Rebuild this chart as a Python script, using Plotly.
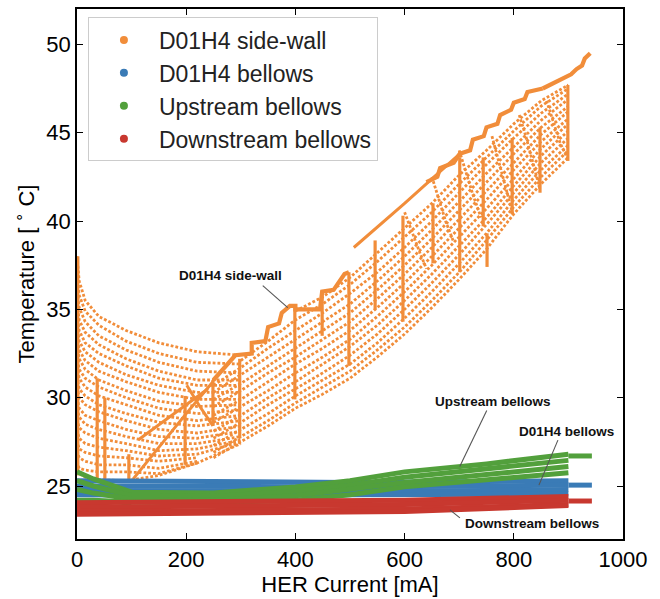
import plotly.graph_objects as go

ORANGE = "#F18D3A"
BLUE = "#3A7BB6"
GREEN = "#52A03C"
RED = "#C8382F"
FONT = "Liberation Sans, Arial, Helvetica, sans-serif"

# ---------------- D01H4 side-wall temperature [degC] vs HER current [mA] ----------------
# Cooling branches after re-injection: wall is warm at low current and cools while current builds up
COOL_X = [0, 4, 15, 40, 90, 150, 220, 300]
COOL_Y = [
    [38.0, 36.6, 35.5, 34.6, 33.8, 33.1, 32.6, 32.4],
    [36.9, 35.8, 34.9, 34.1, 33.2, 32.5, 32.0, 31.9],
    [36.0, 35.1, 34.3, 33.5, 32.7, 32.0, 31.5, 31.4],
    [35.3, 34.4, 33.7, 33.0, 32.2, 31.5, 31.0, 31.0],
    [34.7, 33.8, 33.1, 32.5, 31.8, 31.1, 30.7, 30.7],
    [34.1, 33.2, 32.6, 32.0, 31.3, 30.7, 30.3, 30.3],
    [33.5, 32.7, 32.1, 31.5, 30.9, 30.3, 29.9, 29.9],
    [33.0, 32.2, 31.6, 31.0, 30.4, 29.8, 29.5, 29.6],
    [32.4, 31.6, 31.1, 30.6, 30.0, 29.4, 29.1, 29.3],
    [31.8, 31.1, 30.6, 30.1, 29.6, 29.0, 28.7, 29.0],
    [31.2, 30.5, 30.1, 29.6, 29.1, 28.6, 28.4, 28.7],
    [30.6, 30.0, 29.6, 29.2, 28.7, 28.2, 28.0, 28.4],
    [30.0, 29.4, 29.0, 28.7, 28.2, 27.8, 27.7, 28.1],
    [29.4, 28.9, 28.5, 28.2, 27.8, 27.4, 27.4, 27.8],
    [28.8, 28.3, 28.0, 27.7, 27.4, 27.0, 27.1, 27.6],
    [28.2, 27.7, 27.4, 27.2, 27.0, 26.7, 26.8, 27.5],
    [27.6, 27.1, 26.9, 26.7, 26.6, 26.4, 26.6, None],
    [27.0, 26.6, 26.4, 26.2, 26.2, 26.0, 26.4, None],
    [26.4, 26.0, 25.9, 25.8, 25.8, 25.7, 26.3, None],
    [25.9, 25.7, 25.5, 25.35, 25.3, 25.6, 26.3, 27.4],
]

# Slow rise of the wall temperature with stored current
RISE_X = [250, 300, 350, 400, 450, 500, 550, 600, 650, 700, 750, 800, 850, 900]
RISE_Y = [
    [26.6, 27.5, 28.4, 29.4, 30.2, 31.1, 32.3, 33.6, 35.1, 36.7, 38.4, 40.4, 42.1, 43.6],
    [26.9, 27.8, 28.7, 29.7, 30.6, 31.5, 32.7, 34.0, 35.5, 37.1, 38.9, 40.8, 42.5, 44.0],
    [27.3, 28.2, 29.1, 30.1, 31.0, 31.9, 33.1, 34.5, 36.0, 37.6, 39.3, 41.2, 42.9, 44.3],
    [27.7, 28.6, 29.6, 30.5, 31.4, 32.4, 33.6, 35.0, 36.5, 38.1, 39.8, 41.6, 43.3, 44.7],
    [28.1, 29.0, 30.0, 30.9, 31.9, 32.9, 34.1, 35.5, 37.0, 38.6, 40.2, 42.0, 43.7, 45.1],
    [28.6, 29.5, 30.4, 31.4, 32.3, 33.3, 34.6, 36.0, 37.5, 39.1, 40.7, 42.4, 44.1, 45.5],
    [29.0, 29.9, 30.9, 31.9, 32.8, 33.8, 35.1, 36.5, 38.0, 39.6, 41.2, 42.9, 44.5, 45.8],
    [29.5, 30.4, 31.4, 32.3, 33.3, 34.3, 35.6, 37.0, 38.5, 40.1, 41.7, 43.3, 44.9, 46.2],
    [29.9, 30.8, 31.8, 32.8, 33.8, 34.8, 36.1, 37.5, 39.0, 40.6, 42.2, 43.8, 45.3, 46.5],
    [30.3, 31.3, 32.3, 33.3, 34.3, 35.3, 36.6, 38.0, 39.5, 41.1, 42.7, 44.2, 45.7, 46.9],
    [30.7, 31.7, 32.8, 33.8, 34.8, 35.9, 37.1, 38.5, 40.0, 41.6, 43.2, 44.7, 46.1, 47.2],
    [None, 32.1, 33.2, 34.4, 35.3, 36.4, 37.7, 39.1, 40.5, 42.1, 43.6, 45.1, 46.5, 47.5],
    [None, None, None, 34.9, 35.7, 36.8, 38.2, 39.6, 41.0, 42.6, 44.0, 45.5, 46.8, 47.7],
]

# Fast injection ramps (current rises, wall lags behind)
RAMPS = [
    ([103, 150, 200, 249], [25.4, 27.2, 29.1, 30.9]),
    ([112, 160, 200, 240], [27.6, 28.7, 29.6, 30.5]),
    ([201, 225, 249], [30.7, 29.5, 28.4]),
    ([507, 600, 701], [38.5, 41.0, 43.8]),
]

# Upper edge of the side-wall history: staircase near the maximum temperatures
EDGE = [
    ([250, 290, 320, 320, 345, 350, 370, 375, 390, 400, 400, 445, 449, 470, 490, 498],
     [31.0, 32.4, 32.5, 33.1, 33.2, 34.0, 34.2, 34.8, 35.2, 35.2, 35.0, 35.0, 36.0, 36.1, 37.0, 37.1]),
    ([640, 660, 665, 690, 701, 720, 725, 745, 750, 770, 775, 795, 800, 820, 825, 853],
     [42.2, 42.5, 43.0, 43.3, 43.8, 44.0, 44.6, 44.8, 45.3, 45.5, 46.0, 46.3, 46.7, 46.9, 47.3, 47.5]),
    ([853, 880, 905, 915, 925, 930, 940], [47.5, 47.9, 48.3, 48.6, 48.8, 49.2, 49.5]),
]

# Current held constant while the wall temperature changes: (current, T_high, T_low)
STEPS = [
    (1.5, 38.0, 25.6), (37, 31.1, 25.3), (51, 30.0, 25.4), (95, 26.8, 25.3), (198, 30.1, 26.2),
    (249, 31.0, 28.4), (298, 32.2, 27.7), (399, 35.2, 29.9), (449, 36.0, 33.5),
    (498, 37.1, 31.8), (546, 38.9, 35.0), (597, 40.3, 34.3), (652, 41.0, 37.6),
    (701, 43.6, 37.1), (744, 43.6, 39.7), (751, 39.3, 37.4), (797, 44.7, 40.4),
    (848, 45.3, 41.6), (899, 47.7, 43.4),
]

# Cool-down arcs in the high-current region
ARCS = [
    ([600, 612, 628, 640], [40.5, 39.5, 38.2, 37.3]),
    ([650, 660, 675, 690], [42.5, 41.5, 40.0, 38.8]),
    ([700, 712, 725, 740], [44.0, 42.8, 41.5, 40.2]),
    ([760, 772, 785, 799], [44.8, 43.4, 41.8, 40.3]),
    ([810, 822, 835, 848], [46.0, 44.8, 43.3, 41.8]),
    ([860, 872, 885, 899], [46.8, 45.6, 44.4, 43.5]),
]

# ---------------- Bellows temperatures ----------------
D01_BELLOWS_X = [0, 250, 500, 750, 900]
D01_BELLOWS_Y = [
    [25.3, 25.25, 25.2, 25.25, 25.3],
    [25.0, 24.95, 24.95, 25.0, 25.05],
    [24.75, 24.7, 24.7, 24.75, 24.8],
    [24.5, 24.45, 24.5, 24.55, 24.55],
]
D01_BELLOWS_TAIL = ([900, 943], [25.05, 25.05])

UP_BELLOWS_X = [0, 30, 100, 250, 400, 500, 600, 750, 900]
UP_BELLOWS_Y = [
    [25.8, 25.4, 24.65, 24.6, 24.95, 25.3, 25.8, 26.25, 26.8],
    [25.3, 25.0, 24.45, 24.4, 24.7, 25.05, 25.5, 25.95, 26.45],
    [24.8, 24.6, 24.25, 24.2, 24.45, 24.8, 25.2, 25.65, 26.1],
    [24.2, 24.2, 24.1, 24.05, 24.2, 24.5, 24.95, 25.35, 25.75],
    [23.5, 23.6, 23.9, None, None, None, None, None, None],
]
UP_BELLOWS_TAIL = ([900, 943], [26.7, 26.7])

DOWN_BELLOWS_X = [0, 300, 600, 900]
DOWN_BELLOWS_Y = [
    [24.05, 24.1, 24.2, 24.4],
    [23.8, 23.85, 23.95, 24.2],
    [23.55, 23.6, 23.7, 23.95],
    [23.4, 23.45, 23.55, 23.9],
]
DOWN_BELLOWS_TAIL = ([900, 943], [24.15, 24.15])

SERIES_NAMES = ["D01H4 side-wall", "D01H4 bellows", "Upstream bellows", "Downstream bellows"]
SERIES_COLORS = [ORANGE, BLUE, GREEN, RED]

# labels with leader lines:
# (text, point x, point y, leader end dx, dy [px, down positive], text centre dx, dy [px])
LABELS = [
    ("D01H4 side-wall", 386, 35.1, -25, -22, -57, -32),
    ("Upstream bellows", 701, 26.1, 27, -56, 33, -65),
    ("D01H4 bellows", 846, 25.05, 19, -45, 28, -54),
    ("Downstream bellows", 683, 23.65, 10, 8, 82, 14),
]


def joined(curves):
    """Concatenate (x, y) polylines into one trace separated by gaps."""
    xs, ys = [], []
    for cx, cy in curves:
        xs += list(cx) + [None]
        ys += list(cy) + [None]
    return xs, ys


def grid_curves(xgrid, rows):
    return [(xgrid, row) for row in rows]


fig = go.Figure()


def add_lines(curves, color, width, dash="solid"):
    xs, ys = joined(curves)
    fig.add_trace(go.Scatter(x=xs, y=ys, mode="lines", showlegend=False, hoverinfo="skip",
                             connectgaps=False,
                             line=dict(color=color, width=width, dash=dash)))


# side-wall
add_lines(grid_curves(COOL_X, COOL_Y), ORANGE, 2.8, "2.8px,2px")
add_lines(grid_curves(RISE_X, RISE_Y), ORANGE, 2.8, "2.8px,2px")
add_lines(ARCS, ORANGE, 2.8, "2.8px,1.8px")
add_lines(RAMPS, ORANGE, 3)
add_lines(EDGE, ORANGE, 4.2)
add_lines([([c, c], [hi, lo]) for c, hi, lo in STEPS], ORANGE, 3.2)

# bellows
add_lines(grid_curves(D01_BELLOWS_X, D01_BELLOWS_Y) + [D01_BELLOWS_TAIL], BLUE, 5)
add_lines(grid_curves(UP_BELLOWS_X, UP_BELLOWS_Y) + [UP_BELLOWS_TAIL], GREEN, 5)
add_lines(grid_curves(DOWN_BELLOWS_X, DOWN_BELLOWS_Y) + [DOWN_BELLOWS_TAIL], RED, 5)

# legend entries
for name, color in zip(SERIES_NAMES, SERIES_COLORS):
    fig.add_trace(go.Scatter(x=[None], y=[None], mode="markers", name=name,
                             marker=dict(color=color, size=8)))

label_font = dict(family=FONT, size=13.5, color="#111111", weight="bold")
for text, px, py, lx, ly, tx, ty in LABELS:
    # leader line, anchored at the data point and extended in pixels
    fig.add_shape(type="line", xref="x", yref="y", xsizemode="pixel", ysizemode="pixel",
                  xanchor=px, yanchor=py, x0=0, y0=0, x1=lx, y1=-ly,
                  line=dict(color="#555555", width=1.1))
    # label text
    fig.add_annotation(x=px, y=py, text=text, showarrow=False, xshift=tx, yshift=-ty,
                       font=label_font)

axis_common = dict(showline=True, linecolor="black", linewidth=1.8, mirror="ticks",
                   ticks="inside", ticklen=6, tickwidth=1.4, tickcolor="black",
                   showgrid=False, zeroline=False,
                   tickfont=dict(family=FONT, size=22, color="black"))

fig.update_xaxes(range=[0, 1000], tickvals=[0, 200, 400, 600, 800, 1000],
                 title=dict(text="HER Current [mA]", font=dict(family=FONT, size=22, color="black"),
                            standoff=4), **axis_common)
fig.update_yaxes(range=[22, 52], tickvals=[25, 30, 35, 40, 45, 50],
                 title=dict(text="Temperature [ <sup>∘</sup> C]",
                            font=dict(family=FONT, size=22, color="black"),
                            standoff=6), **axis_common)

fig.update_layout(
    width=660, height=599,
    margin=dict(l=77, r=37, t=7, b=59),
    paper_bgcolor="white", plot_bgcolor="white",
    legend=dict(x=0.02, y=0.984, xanchor="left", yanchor="top",
                bgcolor="rgba(255,255,255,0.8)", bordercolor="#cccccc", borderwidth=1,
                font=dict(family=FONT, size=23, color="#222222"), itemwidth=60,
                tracegroupgap=0),
    showlegend=True,
)

fig.write_html("out.html")
